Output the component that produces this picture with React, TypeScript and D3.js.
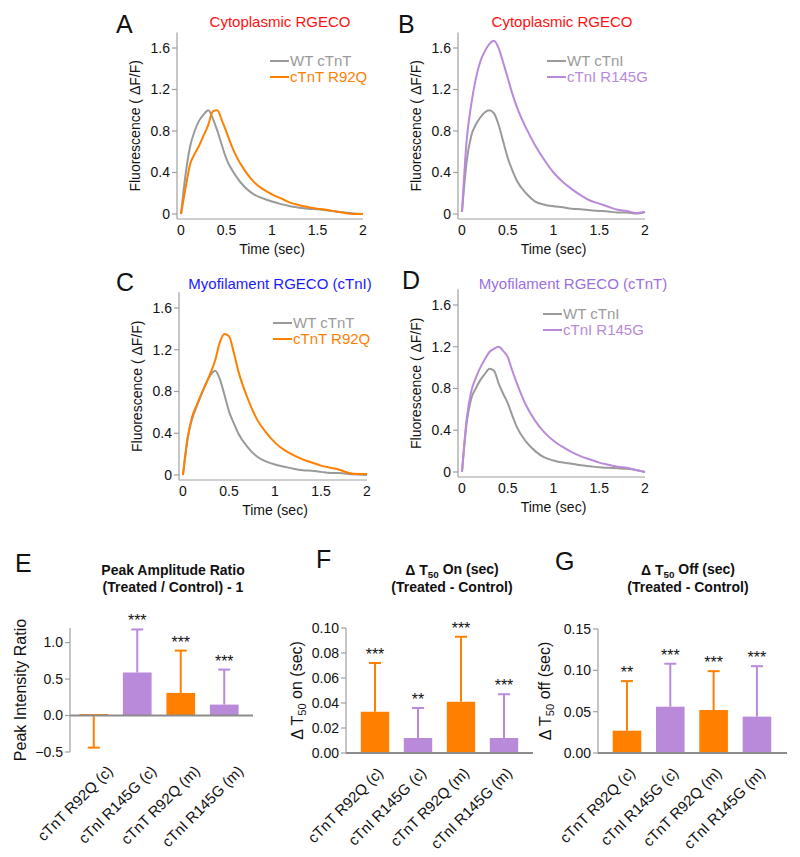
import React from "react";
import * as d3 from "d3";

// ---------- DATA ----------
const TIME = [0, 0.05, 0.1, 0.15, 0.2, 0.25, 0.3, 0.35, 0.4, 0.45, 0.5, 0.55, 0.6, 0.7, 0.8, 0.9, 1.0, 1.1, 1.2, 1.3, 1.4, 1.5, 1.6, 1.7, 1.8, 1.9, 2.0];

const A_WT = [0, 0.38, 0.65, 0.8, 0.9, 0.96, 1.0, 0.92, 0.8, 0.66, 0.53, 0.44, 0.37, 0.26, 0.19, 0.15, 0.12, 0.095, 0.075, 0.06, 0.05, 0.045, 0.035, 0.025, 0.015, 0.005, 0];
const A_MUT = [0, 0.25, 0.48, 0.58, 0.66, 0.76, 0.86, 0.99, 1.0, 0.9, 0.79, 0.67, 0.57, 0.42, 0.31, 0.24, 0.19, 0.15, 0.11, 0.085, 0.065, 0.05, 0.04, 0.025, 0.01, 0.0, 0];

const B_WT = [0.02, 0.5, 0.75, 0.86, 0.93, 0.98, 1.0, 0.97, 0.86, 0.7, 0.54, 0.42, 0.32, 0.2, 0.12, 0.09, 0.075, 0.065, 0.05, 0.045, 0.035, 0.03, 0.025, 0.015, 0.015, 0.005, 0.02];
const B_MUT = [0.02, 0.7, 1.05, 1.3, 1.47, 1.57, 1.64, 1.67, 1.6, 1.46, 1.31, 1.16, 1.03, 0.83, 0.66, 0.52, 0.4, 0.31, 0.24, 0.18, 0.13, 0.1, 0.07, 0.04, 0.03, 0.01, 0.02];

const C_WT = [0, 0.35, 0.54, 0.66, 0.77, 0.88, 0.96, 1.0, 0.92, 0.77, 0.61, 0.5, 0.4, 0.27, 0.18, 0.13, 0.1, 0.08, 0.06, 0.045, 0.04, 0.03, 0.02, 0.02, 0.01, 0.005, 0];
const C_MUT = [0, 0.35, 0.56, 0.67, 0.78, 0.87, 0.98, 1.1, 1.27, 1.35, 1.33, 1.18, 1.0, 0.74, 0.54, 0.41, 0.31, 0.24, 0.19, 0.15, 0.12, 0.09, 0.07, 0.05, 0.02, 0.01, 0.01];

const D_WT = [0, 0.46, 0.7, 0.8, 0.88, 0.94, 0.99, 0.97, 0.85, 0.75, 0.66, 0.54, 0.43, 0.29, 0.2, 0.14, 0.11, 0.09, 0.08, 0.065, 0.055, 0.045, 0.04, 0.035, 0.03, 0.02, 0];
const D_MUT = [0, 0.5, 0.77, 0.9, 1.0, 1.08, 1.15, 1.18, 1.2, 1.16, 1.1, 0.97, 0.85, 0.64, 0.49, 0.38, 0.3, 0.24, 0.19, 0.15, 0.12, 0.09, 0.07, 0.05, 0.04, 0.02, 0];

const LINE_Y_TICKS = [0, 0.4, 0.8, 1.2, 1.6];
const LINE_X_TICKS = [0, 0.5, 1, 1.5, 2];

const BAR_CATEGORIES = ["cTnT R92Q (c)", "cTnI R145G (c)", "cTnT R92Q (m)", "cTnI R145G (m)"];

const E_VALUES = [0.02, 0.59, 0.31, 0.15];
const E_ERR_END = [-0.44, 1.18, 0.89, 0.63];
const E_STARS = ["", "***", "***", "***"];
const E_TICKS = [-0.5, 0, 0.5, 1.0];

const F_VALUES = [0.033, 0.012, 0.041, 0.012];
const F_ERR_END = [0.072, 0.036, 0.093, 0.047];
const F_STARS = ["***", "**", "***", "***"];
const F_TICKS = [0, 0.02, 0.04, 0.06, 0.08, 0.1];

const G_VALUES = [0.027, 0.056, 0.052, 0.044];
const G_ERR_END = [0.087, 0.108, 0.099, 0.105];
const G_STARS = ["**", "***", "***", "***"];
const G_TICKS = [0, 0.05, 0.1, 0.15];

// ---------- STYLE ----------
const FONT = "'Liberation Sans', Arial, Helvetica, sans-serif";
const GRAY = "#9a9a9a";
const ORANGE = "#ff7f00";
const PURPLE = "#b98ad9";
const AXIS = "#a0a0a0";
const BAR_COLORS = [ORANGE, PURPLE, ORANGE, PURPLE];

type LineCfg = {
  letter: string; letterX: number; letterY: number;
  title: string; titleColor: string; titleX: number; titleY: number;
  x0: number; x1: number; y0: number; y16: number;
  wt: number[]; mut: number[]; mutColor: string;
  wtLabel: string; mutLabel: string;
  legX: number; legY: number;
};

function LinePanel({ c }: { c: LineCfg }) {
  const x = d3.scaleLinear().domain([0, 2]).range([c.x0, c.x1]);
  const y = d3.scaleLinear().domain([0, 1.6]).range([c.y0, c.y16]);
  const axX = c.x0 - 4;
  const axY = c.y0 + 5;
  const line = d3.line<number>().x((_, i) => x(TIME[i])).y((d) => y(d)).curve(d3.curveMonotoneX);
  return (
    <g fontFamily={FONT}>
      <text x={c.letterX} y={c.letterY} fontSize={25} fill="#111">{c.letter}</text>
      <text x={c.titleX} y={c.titleY} fontSize={15} fill={c.titleColor} textAnchor="middle">{c.title}</text>
      <line x1={axX} x2={axX} y1={y(1.75)} y2={axY} stroke={AXIS} strokeWidth={1.2} />
      <line x1={axX} x2={c.x1} y1={axY} y2={axY} stroke={AXIS} strokeWidth={1.2} />
      {LINE_Y_TICKS.map((t) => (
        <g key={t}>
          <line x1={axX - 5} x2={axX} y1={y(t)} y2={y(t)} stroke={AXIS} strokeWidth={1.2} />
          <text x={axX - 7} y={y(t)} dy="0.35em" fontSize={14} textAnchor="end" fill="#111">{String(t)}</text>
        </g>
      ))}
      {LINE_X_TICKS.map((t) => (
        <text key={t} x={x(t)} y={axY + 16} fontSize={14} textAnchor="middle" fill="#111">{String(t)}</text>
      ))}
      <text x={(c.x0 + c.x1) / 2} y={axY + 35} fontSize={14} textAnchor="middle" fill="#111">Time (sec)</text>
      <text transform={`translate(${axX - 37},${y(0.85)}) rotate(-90)`} fontSize={14} textAnchor="middle" fill="#111">
        Fluorescence ( ΔF/F)
      </text>
      <path d={line(c.wt) || ""} fill="none" stroke={GRAY} strokeWidth={2} />
      <path d={line(c.mut) || ""} fill="none" stroke={c.mutColor} strokeWidth={2} />
      <line x1={c.legX} x2={c.legX + 19} y1={c.legY} y2={c.legY} stroke={GRAY} strokeWidth={2} />
      <text x={c.legX + 20} y={c.legY} dy="0.35em" fontSize={15} fill={GRAY}>{c.wtLabel}</text>
      <line x1={c.legX} x2={c.legX + 19} y1={c.legY + 16} y2={c.legY + 16} stroke={c.mutColor} strokeWidth={2} />
      <text x={c.legX + 20} y={c.legY + 16} dy="0.35em" fontSize={15} fill={c.mutColor}>{c.mutLabel}</text>
    </g>
  );
}

type BarCfg = {
  letter: string; letterX: number; letterY: number;
  title1: React.ReactNode; title2: string; titleX: number;
  axisX: number; band: [number, number]; xEnd: number;
  domain: [number, number]; range: [number, number];
  ticks: number[]; fmt: string;
  values: number[]; errs: number[]; stars: string[];
  ylabel: React.ReactNode; ylabelDx: number;
  labelDx: number; labelDy: number;
};

function BarPanel({ c }: { c: BarCfg }) {
  const x = d3.scaleBand<string>().domain(BAR_CATEGORIES).range(c.band).paddingInner(0.34).paddingOuter(0.17);
  const y = d3.scaleLinear().domain(c.domain).range(c.range);
  const f = d3.format(c.fmt);
  const bw = x.bandwidth();
  const bottom = y(c.domain[0]);
  return (
    <g fontFamily={FONT}>
      <text x={c.letterX} y={c.letterY} fontSize={25} fill="#111">{c.letter}</text>
      <text x={c.titleX} y={575} fontSize={14} fontWeight="bold" textAnchor="middle" fill="#111">{c.title1}</text>
      <text x={c.titleX} y={592} fontSize={14} fontWeight="bold" textAnchor="middle" fill="#111">{c.title2}</text>
      <line x1={c.axisX} x2={c.axisX} y1={y(c.domain[1])} y2={bottom} stroke={AXIS} strokeWidth={1.2} />
      {c.ticks.map((t) => (
        <g key={t}>
          <line x1={c.axisX - 5} x2={c.axisX} y1={y(t)} y2={y(t)} stroke={AXIS} strokeWidth={1.2} />
          <text x={c.axisX - 7} y={y(t)} dy="0.35em" fontSize={14} textAnchor="end" fill="#111">{f(t)}</text>
        </g>
      ))}
      <text transform={`translate(${c.axisX + c.ylabelDx},${(y(c.domain[1]) + bottom) / 2}) rotate(-90)`} fontSize={16} textAnchor="middle" fill="#111">
        {c.ylabel}
      </text>
      {BAR_CATEGORIES.map((cat, i) => {
        const cx = (x(cat) as number) + bw / 2;
        const v = c.values[i];
        const e = c.errs[i];
        const col = BAR_COLORS[i];
        return (
          <g key={cat}>
            <rect x={x(cat) as number} width={bw} y={Math.min(y(v), y(0))} height={Math.abs(y(0) - y(v))} fill={col} />
            <line x1={cx} x2={cx} y1={y(v)} y2={y(e)} stroke={col} strokeWidth={2} />
            <line x1={cx - 6} x2={cx + 6} y1={y(e)} y2={y(e)} stroke={col} strokeWidth={2} />
            {c.stars[i] && (
              <text x={cx} y={y(e) - 3} fontSize={16} textAnchor="middle" fill="#111">{c.stars[i]}</text>
            )}
            <text transform={`translate(${cx + c.labelDx},${bottom + c.labelDy}) rotate(-45)`} fontSize={15} textAnchor="end" fill="#111">
              {cat}
            </text>
          </g>
        );
      })}
      <line x1={c.axisX} x2={c.xEnd} y1={y(0)} y2={y(0)} stroke="#8c8c8c" strokeWidth={2} />
    </g>
  );
}

const sub = (s: string) => (
  <tspan fontSize="0.7em" dy="0.3em">{s}</tspan>
);

export default function App() {
  const lines: LineCfg[] = [
    { letter: "A", letterX: 116, letterY: 33, title: "Cytoplasmic RGECO", titleColor: "#ff1010", titleX: 280, titleY: 27,
      x0: 181, x1: 363, y0: 214, y16: 48, wt: A_WT, mut: A_MUT, mutColor: ORANGE, wtLabel: "WT cTnT", mutLabel: "cTnT R92Q", legX: 270, legY: 61 },
    { letter: "B", letterX: 398, letterY: 33, title: "Cytoplasmic RGECO", titleColor: "#ff1010", titleX: 562, titleY: 27,
      x0: 462, x1: 645, y0: 214, y16: 48, wt: B_WT, mut: B_MUT, mutColor: PURPLE, wtLabel: "WT cTnI", mutLabel: "cTnI R145G", legX: 547, legY: 61 },
    { letter: "C", letterX: 116, letterY: 291, title: "Myofilament RGECO (cTnI)", titleColor: "#1a1aff", titleX: 280, titleY: 289,
      x0: 183, x1: 367, y0: 475, y16: 308, wt: C_WT, mut: C_MUT, mutColor: ORANGE, wtLabel: "WT cTnT", mutLabel: "cTnT R92Q", legX: 273, legY: 323 },
    { letter: "D", letterX: 402, letterY: 289, title: "Myofilament RGECO (cTnT)", titleColor: "#9a6fe0", titleX: 573, titleY: 289,
      x0: 462, x1: 645, y0: 472, y16: 305, wt: D_WT, mut: D_MUT, mutColor: PURPLE, wtLabel: "WT cTnI", mutLabel: "cTnI R145G", legX: 543, legY: 314 },
  ];
  const bars: BarCfg[] = [
    { letter: "E", letterX: 15, letterY: 572, title1: "Peak Amplitude Ratio", title2: "(Treated / Control) - 1", titleX: 173,
      axisX: 70, band: [72, 246], xEnd: 253, domain: [-0.5, 1.2], range: [752, 628], ticks: E_TICKS, fmt: ".1f",
      values: E_VALUES, errs: E_ERR_END, stars: E_STARS, ylabel: "Peak Intensity Ratio", ylabelDx: -44, labelDx: 20, labelDy: 20 },
    { letter: "F", letterX: 316, letterY: 568, title1: <>Δ T{sub("50")}<tspan dy="-0.3em"> On (sec)</tspan></>, title2: "(Treated - Control)", titleX: 452,
      axisX: 346, band: [353.5, 525.5], xEnd: 533, domain: [0, 0.1], range: [753, 628], ticks: F_TICKS, fmt: ".2f",
      values: F_VALUES, errs: F_ERR_END, stars: F_STARS, ylabel: <>Δ T{sub("50")}<tspan dy="-0.3em"> on (sec)</tspan></>, ylabelDx: -43, labelDx: 9, labelDy: 21 },
    { letter: "G", letterX: 555, letterY: 570, title1: <>Δ T{sub("50")}<tspan dy="-0.3em"> Off (sec)</tspan></>, title2: "(Treated - Control)", titleX: 688,
      axisX: 598, band: [605.3, 778.6], xEnd: 787, domain: [0, 0.15], range: [753, 629], ticks: G_TICKS, fmt: ".2f",
      values: G_VALUES, errs: G_ERR_END, stars: G_STARS, ylabel: <>Δ T{sub("50")}<tspan dy="-0.3em"> off (sec)</tspan></>, ylabelDx: -47, labelDx: 9, labelDy: 21 },
  ];
  return (
    <svg width={800} height={857} style={{ position: "absolute", left: 0, top: 0, background: "#fff" }}>
      <rect width={800} height={857} fill="#fff" />
      {lines.map((c) => <LinePanel key={c.letter} c={c} />)}
      {bars.map((c) => <BarPanel key={c.letter} c={c} />)}
    </svg>
  );
}
